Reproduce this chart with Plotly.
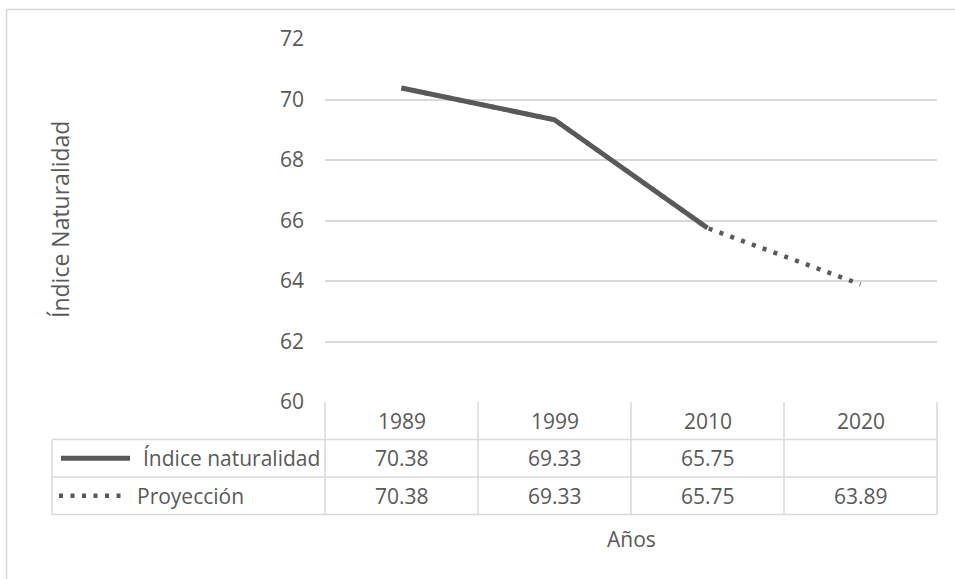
import plotly.graph_objects as go

# Data
years = ["1989", "1999", "2010", "2020"]
indice = [70.38, 69.33, 65.75, None]
proyeccion = [70.38, 69.33, 65.75, 63.89]
y_ticks = [60, 62, 64, 66, 68, 70, 72]
series_names = ["Índice naturalidad", "Proyección"]

W, H = 955, 579
L, R, T, B = 325, 937, 39, 402  # plot area in pixels
TXT = "#595959"
GRID = "#d9d9d9"
FONT = "Open Sans"
FS = 21


def px(x):
    return (x - L) / (R - L)


def py(y):
    return (B - y) / (B - T)


fig = go.Figure()

# projection drawn first (dotted), observed series on top (solid)
fig.add_trace(go.Scatter(x=years, y=proyeccion, mode="lines", name=series_names[1],
                         line=dict(color=TXT, width=4.5, dash="4px,7.5px"),
                         showlegend=False, hoverinfo="skip"))
fig.add_trace(go.Scatter(x=years, y=indice, mode="lines", name=series_names[0],
                         line=dict(color=TXT, width=5), showlegend=False,
                         connectgaps=False))

shapes = []
annotations = []


def hline(x0, x1, y, color=GRID, w=1.5):
    shapes.append(dict(type="line", xref="paper", yref="paper",
                       x0=px(x0), x1=px(x1), y0=py(y), y1=py(y),
                       line=dict(color=color, width=w)))


def vline(x, y0, y1, color=GRID, w=1.5):
    shapes.append(dict(type="line", xref="paper", yref="paper",
                       x0=px(x), x1=px(x), y0=py(y0), y1=py(y1),
                       line=dict(color=color, width=w)))


def text(x, y, s, xanchor="center", size=FS, angle=0):
    annotations.append(dict(xref="paper", yref="paper", x=px(x), y=py(y), text=s,
                            showarrow=False, xanchor=xanchor, yanchor="middle",
                            textangle=angle, font=dict(family=FONT, size=size, color=TXT)))


# outer chart border (left and top edges)
hline(6.5, 960, 9.5)
vline(6.5, 9.5, 600)

# data table
n = len(years)
col_w = (R - L) / n
rows_y = [402, 439.5, 477, 514.5]
legend_x0 = 52
for y in rows_y[1:]:
    hline(legend_x0, R, y)
for i in range(n + 1):
    vline(L + i * col_w, rows_y[0], rows_y[-1])
vline(legend_x0, rows_y[1], rows_y[-1])

row_series = [indice, proyeccion]
for i, yr in enumerate(years):
    cx = L + (i + 0.5) * col_w
    text(cx, (rows_y[0] + rows_y[1]) / 2, yr)
    for r, ser in enumerate(row_series):
        v = ser[i]
        if v is not None:
            text(cx, (rows_y[r + 1] + rows_y[r + 2]) / 2, f"{v:.2f}")

# legend keys inside the table
ky1 = (rows_y[1] + rows_y[2]) / 2
ky2 = (rows_y[2] + rows_y[3]) / 2
shapes.append(dict(type="line", xref="paper", yref="paper", x0=px(61), x1=px(130),
                   y0=py(ky1), y1=py(ky1), line=dict(color=TXT, width=5)))
shapes.append(dict(type="line", xref="paper", yref="paper", x0=px(59), x1=px(127),
                   y0=py(ky2), y1=py(ky2), line=dict(color=TXT, width=4.5, dash="4px,7.5px")))
text(141, ky1, series_names[0], xanchor="left")
text(135, ky2, series_names[1], xanchor="left")

# axis titles
text((L + R) / 2, 539, "Años")
text(60, 220, "Índice Naturalidad", angle=-90, size=23)

fig.update_layout(
    width=W, height=H,
    margin=dict(l=L, r=W - R, t=T, b=H - B),
    paper_bgcolor="white", plot_bgcolor="white",
    shapes=shapes, annotations=annotations,
    xaxis=dict(type="category", range=[-0.5, 3.5], showticklabels=False,
               showgrid=False, zeroline=False, showline=False),
    yaxis=dict(range=[60, 72], tickvals=y_ticks, showgrid=True, gridcolor=GRID,
               gridwidth=1.5, zeroline=False, showline=False,
               tickfont=dict(family=FONT, size=FS, color=TXT), ticklabelstandoff=20),
    showlegend=False,
)

fig.write_html("out.html")
